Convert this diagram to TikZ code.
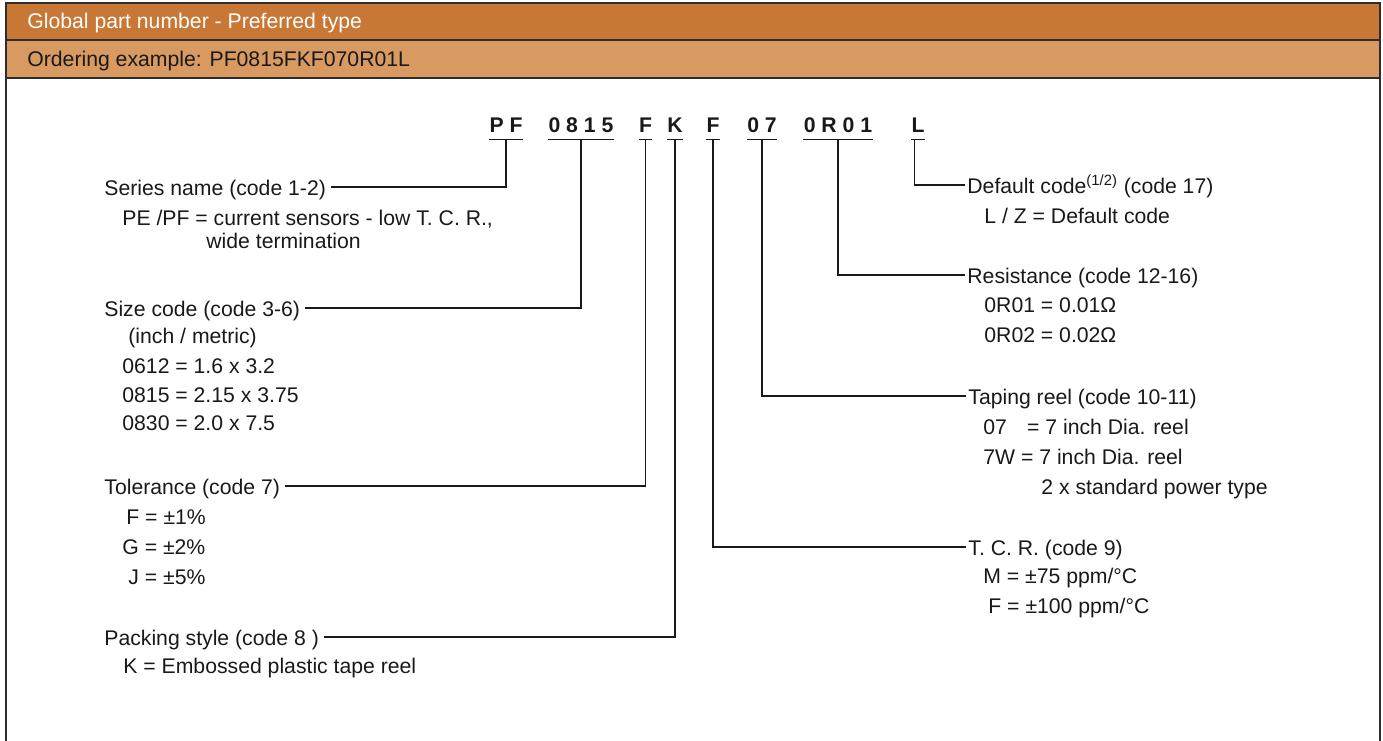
\documentclass[tikz,border=0pt]{standalone}
\usepackage{fontspec}
\setmainfont{Liberation Sans}
\definecolor{hdrA}{RGB}{200,119,52}
\definecolor{hdrB}{RGB}{217,154,97}
\definecolor{ink}{RGB}{25,25,25}
\definecolor{frm}{RGB}{45,45,45}
\begin{document}
\begin{tikzpicture}[x=0.5pt,y=-0.5pt,
  every node/.style={font=\fontsize{10.6pt}{12.7pt}\selectfont, inner sep=0pt},
  txt/.style={anchor=base west, text=ink},
  lbl/.style={anchor=west, text height=8pt, text depth=0pt, inner xsep=2.5pt, inner ysep=0pt, text=ink},
  rlbl/.style={anchor=west, text height=8pt, text depth=0pt, inner xsep=1pt, inner ysep=0pt, text=ink},
  code/.style={anchor=base, font=\fontsize{10.6pt}{12.7pt}\selectfont\bfseries, text height=8pt, text depth=0pt, inner xsep=0pt, inner ysep=3.5pt, text=ink},
  conn/.style={draw=ink, line width=0.6pt},
  frame/.style={draw=frm, line width=1pt}]
\useasboundingbox (0,0) rectangle (1383,740);
% header
\fill[hdrA] (6,3) rectangle (1380,40);
\fill[hdrB] (6,40) rectangle (1380,78);
\draw[frame] (6,40) -- (1380,40);
\draw[frame] (6,78) -- (1380,78);
\draw[frame] (6,741) -- (6,3) -- (1380,3) -- (1380,741);
\node[txt, text=white] (h1) at (27,28) {Global part number - Preferred type};
\node[txt] (h2) at (27,66) {Ordering example: PF0815FKF070R01L};
% code groups
\node[code] (cPF) at (506,132) {P F};
\node[code] (c0815) at (581,132) {0 8 1 5};
\node[code] (cF1) at (645.5,132) {F};
\node[code] (cK) at (675,132) {K};
\node[code] (cF2) at (713,132) {F};
\node[code] (c07) at (762,132) {0 7};
\node[code] (c0R01) at (838,132) {0 R 0 1};
\node[code] (cL) at (918,132) {L};
\foreach \n in {cPF,c0815,cF1,cK,cF2,c07,c0R01,cL}
  \draw[conn] (\n.south west) -- (\n.south east);
% left labels
\node[lbl] (ser) at (99,187) {Series name (code 1-2)};
\node[txt] (serA) at (122,225) {PE /PF = current sensors - low T. C. R.,};
\node[txt] (serB) at (206,248) {wide termination};
\node[lbl] (siz) at (99,308) {Size code (code 3-6)};
\node[txt] (sizA) at (128,343) {(inch / metric)};
\node[txt] (sizB) at (122,373) {0612 = 1.6 x 3.2};
\node[txt] (sizC) at (122,402) {0815 = 2.15 x 3.75};
\node[txt] (sizD) at (122,430) {0830 = 2.0 x 7.5};
\node[lbl] (tol) at (99,486) {Tolerance (code 7)};
\node[txt] (tolA) at (126,524) {F = ±1\%};
\node[txt] (tolB) at (122,554) {G = ±2\%};
\node[txt] (tolC) at (128,584) {J = ±5\%};
\node[lbl] (pak) at (99,637) {Packing style (code 8 )};
\node[txt] (pakA) at (123,673) {K = Embossed plastic tape reel};
% right labels
\node[rlbl] (def) at (965,185) {Default code\textsuperscript{(1/2)} (code 17)};
\node[txt] (defA) at (984,223) {L / Z = Default code};
\node[rlbl] (res) at (965,275) {Resistance (code 12-16)};
\node[txt] (resA) at (984,312) {0R01 = 0.01Ω};
\node[txt] (resB) at (984,342) {0R02 = 0.02Ω};
\node[rlbl] (tap) at (966,396) {Taping reel (code 10-11)};
\node[txt] (tapA) at (983,434) {07\hspace{0.95em}= 7 inch Dia. reel};
\node[txt] (tapB) at (983,464) {7W = 7 inch Dia. reel};
\node[txt] (tapC) at (1041,494) {2 x standard power type};
\node[rlbl] (tcr) at (966,547) {T. C. R. (code 9)};
\node[txt] (tcrA) at (983,583) {M = ±75 ppm/°C};
\node[txt] (tcrB) at (988,613) {F = ±100 ppm/°C};
% connectors
\draw[conn] (ser.east) -| (cPF.south);
\draw[conn] (siz.east) -| (c0815.south);
\draw[conn] (tol.east) -| (cF1.south);
\draw[conn] (pak.east) -| (cK.south);
\draw[conn] (cF2.south) |- (tcr.west);
\draw[conn] (c07.south) |- (tap.west);
\draw[conn] (c0R01.south) |- (res.west);
\draw[conn] ([xshift=1.5]cL.south west) |- (def.west);
\end{tikzpicture}
\end{document}
